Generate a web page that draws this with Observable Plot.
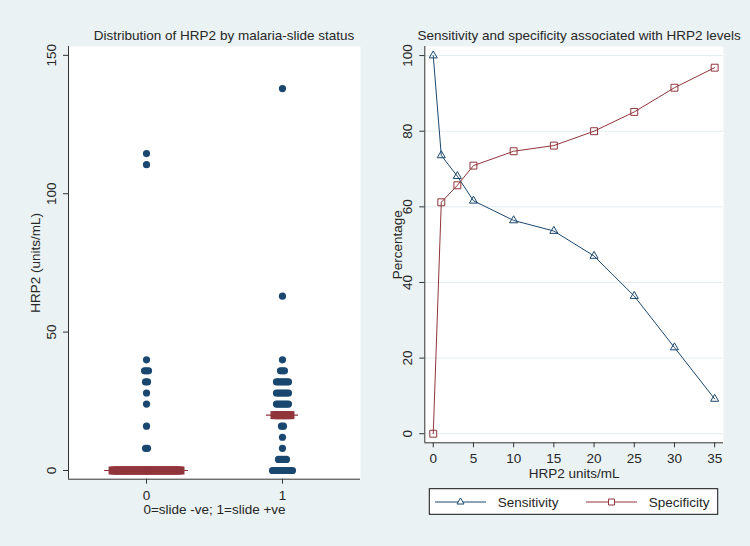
<!DOCTYPE html>
<html>
<head>
<meta charset="utf-8">
<script src="https://cdn.jsdelivr.net/npm/d3@7"></script>
<script src="https://cdn.jsdelivr.net/npm/@observablehq/plot@0.6"></script>
<style>
  html, body { margin: 0; padding: 0; background: #eaf2f3; }
  #wrap { width: 750px; height: 546px; display: flex; background: #eaf2f3; }
  #wrap svg { display: block; }
</style>
</head>
<body>
<div id="wrap"></div>
<script>
// ---------- Data (left panel: dot plot of HRP2 by slide status) ----------
const slideGroups = [0, 1];
const slideTickLabels = ["0", "1"];
const negValues = [0, 8, 16, 24, 28, 32, 36, 40, 110.5, 114.5];
const negCounts = [35, 2, 1, 1, 1, 2, 3, 1, 1, 1];
const posValues = [0, 4, 8, 12, 16, 20, 24, 28, 32, 36, 40, 63, 138];
const posCounts = [11, 5, 1, 1, 2, 9, 7, 7, 7, 3, 1, 1, 1];
const groupMedians = [0, 20];
const hrp2Ticks = [0, 50, 100, 150];

// ---------- Data (right panel: sensitivity / specificity) ----------
const cutoffs = [0, 1, 3, 5, 10, 15, 20, 25, 30, 35];
const sensitivity = [100, 73.6, 68.1, 61.6, 56.4, 53.6, 47.0, 36.4, 22.8, 9.2];
const specificity = [0, 61.2, 65.7, 70.9, 74.7, 76.2, 80.0, 85.1, 91.5, 96.8];
const cutoffTicks = [0, 5, 10, 15, 20, 25, 30, 35];
const pctTicks = [0, 20, 40, 60, 80, 100];
const seriesNames = ["Sensitivity", "Specificity"];

// ---------- Styles ----------
const navy = "#1a476f";
const maroon = "#90353b";
const axisColor = "#333";
const textColor = "#262626";
const gridColor = "#e4edf0";
const font = "'Liberation Sans', Arial, sans-serif";
const fs = 13.5;
const step = 0.0147; // horizontal spacing between stacked dots (x units)

function expand(group, values, counts) {
  const out = [];
  values.forEach((v, j) => {
    const n = counts[j];
    for (let i = 0; i < n; i++) {
      out.push({group, value: v, offset: i - (n - 1) / 2, n, median: v === groupMedians[group]});
    }
  });
  return out;
}
const dots = [...expand(0, negValues, negCounts), ...expand(1, posValues, posCounts)];
const medianRows = slideGroups.map(g => {
  const vals = g === 0 ? negValues : posValues;
  const cnts = g === 0 ? negCounts : posCounts;
  const n = cnts[vals.indexOf(groupMedians[g])];
  return {group: g, value: groupMedians[g], half: (n - 1) / 2 * step + 0.059};
});

const xL = [-0.574, 1.574];
const yL = [-3.15, 153.2];

const left = Plot.plot({
  width: 375, height: 546,
  marginLeft: 68, marginRight: 15, marginTop: 46, marginBottom: 67.3,
  x: {domain: xL, axis: null},
  y: {domain: yL, axis: null},
  style: {background: "transparent", fontFamily: font, fontSize: fs + "px", color: textColor, overflow: "visible"},
  marks: [
    Plot.frame({fill: "white", stroke: null}),
    Plot.dot(dots, {x: d => d.group + d.offset * step, y: "value", r: 3.6, fill: navy, stroke: null}),
    Plot.ruleY(medianRows, {y: "value", x1: d => d.group - d.half, x2: d => d.group + d.half, stroke: maroon, strokeWidth: 1.2}),
    Plot.dot(dots.filter(d => d.median), {x: d => d.group + d.offset * step, y: "value", symbol: "square", r: 4.5, fill: maroon, stroke: null}),
    Plot.ruleX([xL[0]], {stroke: axisColor, strokeWidth: 1}),
    Plot.ruleY([yL[0]], {stroke: axisColor, strokeWidth: 1}),
    Plot.axisY({ticks: hrp2Ticks, tickSize: 5, tickFormat: () => "", label: null, stroke: axisColor}),
    Plot.text(hrp2Ticks, {y: d => d, frameAnchor: "left", rotate: -90, dx: -17, textAnchor: "middle", lineAnchor: "middle", fill: textColor, fontSize: fs}),
    Plot.axisX({ticks: slideGroups, tickSize: 5, tickPadding: 6, label: null, tickFormat: (d, i) => slideTickLabels[i], stroke: axisColor, fill: textColor, fontSize: fs}),
    Plot.text(["0=slide -ve; 1=slide +ve"], {frameAnchor: "bottom", dy: 30, lineAnchor: "middle", fill: textColor, fontSize: fs}),
    Plot.text(["HRP2 (units/mL)"], {frameAnchor: "left", rotate: -90, dx: -33, textAnchor: "middle", lineAnchor: "middle", fill: textColor, fontSize: fs}),
    Plot.text(["Distribution of HRP2 by malaria-slide status"], {frameAnchor: "top", dx: 9.5, dy: -11, lineAnchor: "middle", fill: textColor, fontSize: fs})
  ]
});

const sensData = cutoffs.map((c, i) => ({cutoff: c, value: sensitivity[i]}));
const specData = cutoffs.map((c, i) => ({cutoff: c, value: specificity[i]}));

const xR = [-1.05, 36.1];
const yR = [-2.4, 102.4];

const right = Plot.plot({
  width: 375, height: 546,
  marginLeft: 49.3, marginRight: 27, marginTop: 46, marginBottom: 103.7,
  x: {domain: xR, axis: null},
  y: {domain: yR, axis: null},
  style: {background: "transparent", fontFamily: font, fontSize: fs + "px", color: textColor, overflow: "visible"},
  marks: [
    Plot.frame({fill: "white", stroke: null}),
    Plot.gridY(pctTicks, {stroke: gridColor, strokeOpacity: 1, strokeWidth: 1}),
    Plot.line(specData, {x: "cutoff", y: "value", stroke: maroon, strokeWidth: 1}),
    Plot.line(sensData, {x: "cutoff", y: "value", stroke: navy, strokeWidth: 1}),
    Plot.dot(specData, {x: "cutoff", y: "value", symbol: "square", r: 3.9, fill: "none", stroke: maroon, strokeWidth: 1}),
    Plot.dot(sensData, {x: "cutoff", y: "value", symbol: "triangle", r: 3, fill: "none", stroke: navy, strokeWidth: 1}),
    Plot.ruleX([xR[0]], {stroke: axisColor, strokeWidth: 1}),
    Plot.ruleY([yR[0]], {stroke: axisColor, strokeWidth: 1}),
    Plot.axisY({ticks: pctTicks, tickSize: 5, tickFormat: () => "", label: null, stroke: axisColor}),
    Plot.text(pctTicks, {y: d => d, frameAnchor: "left", rotate: -90, dx: -17, textAnchor: "middle", lineAnchor: "middle", fill: textColor, fontSize: fs}),
    Plot.axisX({ticks: cutoffTicks, tickSize: 5, tickPadding: 6, label: null, stroke: axisColor, fill: textColor, fontSize: fs}),
    Plot.text(["HRP2 units/mL"], {frameAnchor: "bottom", dy: 30.7, lineAnchor: "middle", fill: textColor, fontSize: fs}),
    Plot.text(["Percentage"], {frameAnchor: "left", rotate: -90, dx: -27, textAnchor: "middle", lineAnchor: "middle", fill: textColor, fontSize: fs}),
    Plot.text(["Sensitivity and specificity associated with HRP2 levels"], {frameAnchor: "top", dx: 5, dy: -11, lineAnchor: "middle", fill: textColor, fontSize: fs})
  ]
});

// ---------- Legend (drawn into the right SVG) ----------
const legendItems = [
  {label: seriesNames[0], color: navy, symbol: d3.symbolTriangle, size: Math.PI * 2.6 * 2.6},
  {label: seriesNames[1], color: maroon, symbol: d3.symbolSquare, size: Math.PI * 3.4 * 3.4}
];
const svgR = d3.select(right);
const lg = svgR.append("g").attr("transform", "translate(54.3,488.7)");
lg.append("rect").attr("width", 288.4).attr("height", 25.6).attr("fill", "white").attr("stroke", "#111").attr("stroke-width", 1);
legendItems.forEach((it, i) => {
  const gx = i === 0 ? 5.7 : 156.7;
  const g = lg.append("g").attr("transform", `translate(${gx},13.3)`);
  g.append("line").attr("x1", 0).attr("x2", 51).attr("stroke", it.color).attr("stroke-width", 1);
  g.append("path").attr("d", d3.symbol(it.symbol, it.size)()).attr("transform", "translate(25.5,0)")
    .attr("fill", "white").attr("stroke", it.color).attr("stroke-width", 1);
  g.append("text").attr("x", 62.7).attr("y", 0).attr("dy", "0.35em").attr("text-anchor", "start").attr("fill", textColor)
    .attr("font-family", font).attr("font-size", fs).text(it.label);
});

document.getElementById("wrap").append(left, right);
</script>
</body>
</html>
